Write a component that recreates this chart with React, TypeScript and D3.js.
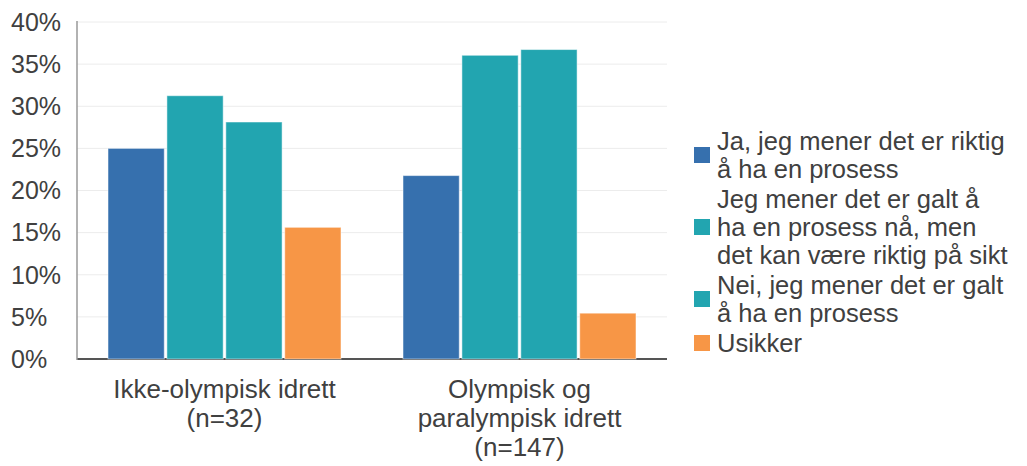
import React from "react";
import * as d3 from "d3";

const categories = [
  ["Ikke-olympisk idrett", "(n=32)"],
  ["Olympisk og", "paralympisk idrett", "(n=147)"],
];
const seriesNames = [
  ["Ja, jeg mener det er riktig", "å ha en prosess"],
  ["Jeg mener det er galt å", "ha en prosess nå, men", "det kan være riktig på sikt"],
  ["Nei, jeg mener det er galt", "å ha en prosess"],
  ["Usikker"],
];
const seriesColors = ["#3670ae", "#22a5b0", "#22a5b0", "#f79646"];
// percent per category, one array per series
const ja = [25.0, 21.77];
const galtNaa = [31.25, 36.05];
const nei = [28.13, 36.73];
const usikker = [15.63, 5.44];
const yTicks = [0, 5, 10, 15, 20, 25, 30, 35, 40];

const W = 1027;
const H = 466;
const margin = { top: 22, left: 77, right: 360, bottom: 106 };
const font = "'Liberation Sans', Arial, sans-serif";
const textColor = "#404040";

const App: React.FC = () => {
  const values = [ja, galtNaa, nei, usikker];
  const plotRight = W - margin.right;
  const plotBottom = H - margin.bottom - 1;

  const y = d3.scaleLinear().domain([0, 40]).range([plotBottom, margin.top]);
  const x0 = d3
    .scaleBand<number>()
    .domain(categories.map((_, i) => i))
    .range([margin.left, plotRight]);
  const x1 = d3
    .scaleBand<number>()
    .domain(values.map((_, i) => i))
    .range([31, x0.bandwidth() - 31])
    .paddingInner(0.045);

  // legend layout
  const lh = 28;
  const gap = 2;
  let cursor = 150;
  const legendItems = seriesNames.map((lines, i) => {
    const first = cursor;
    cursor += lines.length * lh + gap;
    const centre = first - 9 + ((lines.length - 1) * lh) / 2;
    return { lines, first, centre, color: seriesColors[i] };
  });

  return (
    <svg
      width={W}
      height={H}
      style={{ position: "absolute", left: 0, top: 0, background: "#fff" }}
      fontFamily={font}
    >
      {yTicks.slice(1).map((t) => (
        <line
          key={"g" + t}
          x1={margin.left}
          x2={plotRight}
          y1={y(t)}
          y2={y(t)}
          stroke="#ececec"
          strokeWidth={1}
        />
      ))}
      <line
        x1={margin.left}
        x2={plotRight}
        y1={plotBottom}
        y2={plotBottom}
        stroke="#555"
        strokeWidth={2}
      />
      <line
        x1={margin.left}
        x2={margin.left}
        y1={margin.top - 1}
        y2={plotBottom + 1}
        stroke="#999"
        strokeWidth={1.5}
      />
      {yTicks.map((t) => (
        <text
          key={"t" + t}
          x={11}
          y={y(t)}
          dy="0.35em"
          fontSize={25}
          fill={textColor}
        >
          {t}%
        </text>
      ))}
      {categories.map((_, ci) => (
        <g key={"c" + ci} transform={`translate(${x0(ci)},0)`}>
          {values.map((vals, si) => (
            <rect
              key={si}
              x={x1(si)}
              y={y(vals[ci])}
              width={x1.bandwidth()}
              height={plotBottom - y(vals[ci])}
              fill={seriesColors[si]}
              stroke="rgba(255,255,255,0.5)"
              strokeWidth={1}
            />
          ))}
        </g>
      ))}
      {categories.map((lines, ci) => (
        <text
          key={"x" + ci}
          textAnchor="middle"
          fontSize={26}
          fill={textColor}
        >
          {lines.map((l, li) => (
            <tspan
              key={li}
              x={(x0(ci) as number) + x0.bandwidth() / 2}
              y={398 + li * 29}
            >
              {l}
            </tspan>
          ))}
        </text>
      ))}
      {legendItems.map((it, i) => (
        <g key={"l" + i}>
          <rect
            x={694}
            y={it.centre - 8}
            width={16}
            height={16}
            fill={it.color}
          />
          <text fontSize={25.5} fill={textColor}>
            {it.lines.map((l, li) => (
              <tspan key={li} x={717} y={it.first + li * lh}>
                {l}
              </tspan>
            ))}
          </text>
        </g>
      ))}
    </svg>
  );
};

export default App;
